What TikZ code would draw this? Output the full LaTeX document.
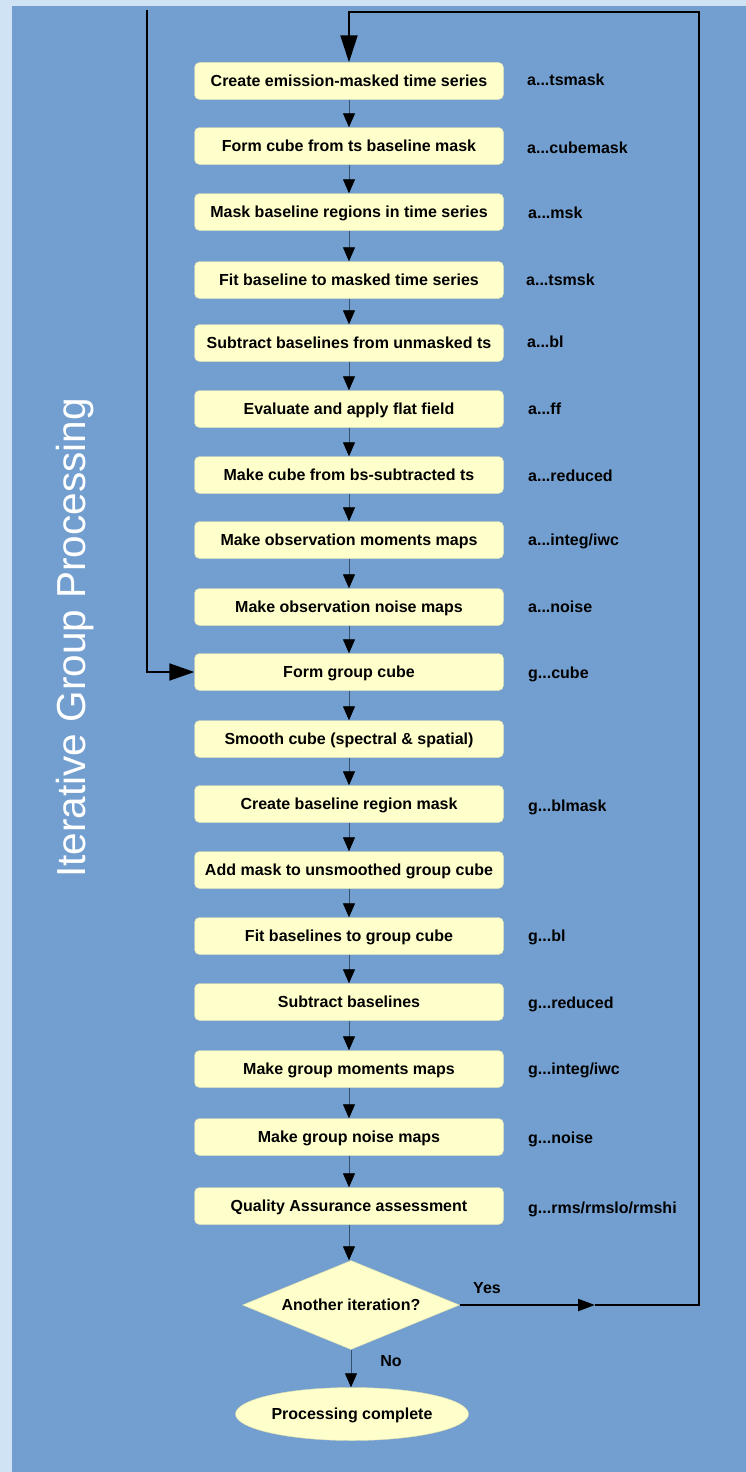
\documentclass[tikz,border=0pt]{standalone}
\usepackage{fontspec}
\setmainfont{Liberation Sans}
\usetikzlibrary{arrows.meta,shapes.geometric}
\definecolor{panel}{HTML}{729FCF}
\definecolor{pale}{HTML}{CFE3F4}
\definecolor{boxfill}{HTML}{FFFFCC}
\definecolor{boxline}{HTML}{DEDEB0}
\definecolor{conn}{HTML}{34506F}
\begin{document}
\begin{tikzpicture}[x=1pt,y=-1pt,
  stepbox/.style={draw=boxline, fill=boxfill, rounded corners=5pt, minimum width=309pt, minimum height=37pt, inner sep=0pt, text height=15pt, text depth=3.4pt, font=\fontsize{16}{18}\selectfont\bfseries},
  lbl/.style={anchor=west, inner sep=0pt, text height=15pt, text depth=3.4pt, font=\fontsize{16}{18}\selectfont\bfseries},
  flow/.style={draw=conn, line width=0.8pt, -{Triangle[length=14pt,width=12pt,color=black]}},
  loopline/.style={draw=black, line width=2pt, line join=miter},
]
\useasboundingbox (0,0) rectangle (746,1472);
\fill[pale] (0,0) rectangle (746,1472);
\fill[panel] (12,6) rectangle (746,1472);

\node[rotate=90, text=white, inner sep=0pt, font=\fontsize{40.5}{44}\selectfont] (title) at (75,638) {Iterative Group Processing};

\node[stepbox] (b1) at (349,81) {Create emission-masked time series};
\node[stepbox] (b2) at (349,146) {Form cube from ts baseline mask};
\node[stepbox] (b3) at (349,212) {Mask baseline regions in time series};
\node[stepbox] (b4) at (349,280) {Fit baseline to masked time series};
\node[stepbox] (b5) at (349,343) {Subtract baselines from unmasked ts};
\node[stepbox] (b6) at (349,409) {Evaluate and apply flat field};
\node[stepbox] (b7) at (349,475) {Make cube from bs-subtracted ts};
\node[stepbox] (b8) at (349,540) {Make observation moments maps};
\node[stepbox] (b9) at (349,607) {Make observation noise maps};
\node[stepbox] (b10) at (349,672) {Form group cube};
\node[stepbox] (b11) at (349,739) {Smooth cube (spectral \& spatial)};
\node[stepbox] (b12) at (349,804) {Create baseline region mask};
\node[stepbox] (b13) at (349,870) {Add mask to unsmoothed group cube};
\node[stepbox] (b14) at (349,936) {Fit baselines to group cube};
\node[stepbox] (b15) at (349,1002) {Subtract baselines};
\node[stepbox] (b16) at (349,1069) {Make group moments maps};
\node[stepbox] (b17) at (349,1137) {Make group noise maps};
\node[stepbox] (b18) at (349,1206) {Quality Assurance assessment};

\node[diamond, draw=boxline, fill=boxfill, inner sep=0pt, minimum width=217pt, minimum height=89pt, aspect=2.44, text height=15pt, text depth=3.4pt, font=\fontsize{16}{18}\selectfont\bfseries] (dec) at (351,1305) {Another iteration?};
\node[ellipse, draw=boxline, fill=boxfill, inner sep=0pt, minimum width=233pt, minimum height=53pt, text height=15pt, text depth=3.4pt, font=\fontsize{16}{18}\selectfont\bfseries] (done) at (352,1414) {Processing complete};

\node[lbl] (l1) at (527,80) {a...tsmask};
\node[lbl] (l2) at (527,148) {a...cubemask};
\node[lbl] (l3) at (528,213) {a...msk};
\node[lbl] (l4) at (526,280) {a...tsmsk};
\node[lbl] (l5) at (527,342) {a...bl};
\node[lbl] (l6) at (528,409) {a...ff};
\node[lbl] (l7) at (528,476) {a...reduced};
\node[lbl] (l8) at (528,540) {a...integ/iwc};
\node[lbl] (l9) at (528,607) {a...noise};
\node[lbl] (l10) at (528,673) {g...cube};
\node[lbl] (l12) at (528,806) {g...blmask};
\node[lbl] (l14) at (528,936) {g...bl};
\node[lbl] (l15) at (528,1003) {g...reduced};
\node[lbl] (l16) at (528,1069) {g...integ/iwc};
\node[lbl] (l17) at (528,1138) {g...noise};
\node[lbl] (l18) at (528,1208) {g...rms/rmslo/rmshi};

\foreach \a/\b in {b1/b2,b2/b3,b3/b4,b4/b5,b5/b6,b6/b7,b7/b8,b8/b9,b9/b10,b10/b11,b11/b12,b12/b13,b13/b14,b14/b15,b15/b16,b16/b17,b17/b18,b18/dec}
  \draw[flow] (\a.south) -- (\a.south |- \b.north);
\draw[flow] (dec.south) -- (dec.south |- done.north);

\node[lbl, anchor=center] (no) at (391,1361) {No};
\node[lbl, anchor=center] (yes) at (487,1288) {Yes};

\coordinate (yesmid) at (595,1305);
\coordinate (rb) at (699,1305);
\coordinate (rt) at (699,12);
\coordinate (lt) at (349,12);
\coordinate (ltop) at (147,10);
\draw[loopline, -{Triangle[length=17pt,width=12pt]}] (dec.east) -- (yesmid);
\draw[loopline, -{Triangle[length=27pt,width=17pt]}] (yesmid) -- (rb) -- (rt) -- (lt) -- (b1.north);
\draw[loopline, -{Triangle[length=25pt,width=17pt]}] (ltop) |- (b10.west);
\end{tikzpicture}
\end{document}
